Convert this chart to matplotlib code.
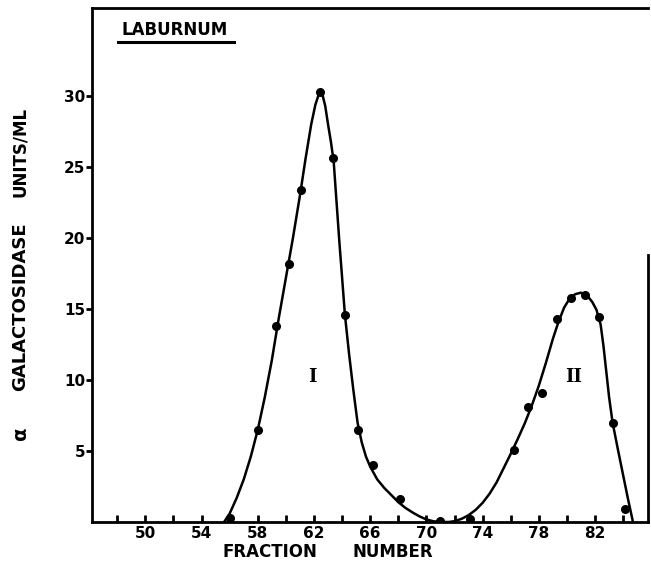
import matplotlib as mpl

mpl.use('Agg')
import matplotlib.pyplot as plt
from matplotlib.lines import Line2D

# measured points (fraction number, alpha galactosidase units/ml)
frac = [56.0, 58.0, 59.3, 60.2, 61.1, 62.4, 63.35, 64.2, 65.1, 66.2, 68.1,
        71.0, 73.1, 76.2, 77.2, 78.2, 79.3, 80.3, 81.3, 82.3, 83.25, 84.15]
activity = [0.3, 6.5, 13.8, 18.2, 23.4, 30.3, 25.65, 14.6, 6.5, 4.0, 1.6,
            0.05, 0.2, 5.1, 8.1, 9.1, 14.3, 15.8, 16.0, 14.45, 7.0, 0.9]

# hand drawn curve
curve_frac = [55.6, 56.0, 56.5, 57.0, 57.5, 58.0, 58.5, 59.0, 59.5, 60.0,
              60.5, 61.0, 61.4, 61.8, 62.1, 62.3, 62.45, 62.6, 62.8, 63.0,
              63.2, 63.4, 63.8, 64.2, 64.5, 64.8, 65.1, 65.4, 65.7, 66.0,
              66.5, 67.0, 67.5, 68.0, 68.5, 69.0, 69.5, 70.0, 70.5, 71.0,
              71.6, 72.0, 72.5, 73.0, 73.5, 74.0, 74.5, 75.0, 75.5, 76.0,
              76.5, 77.0, 77.5, 78.0, 78.5, 79.0, 79.4, 79.8, 80.2, 80.6,
              81.0, 81.4, 81.8, 82.1, 82.4, 82.6, 82.8, 83.0, 83.25, 83.65,
              84.0, 84.35, 84.7]
curve_act = [0.0, 0.6, 1.7, 3.0, 4.6, 6.5, 8.8, 11.4, 14.4, 17.2,
             20.0, 23.0, 25.6, 28.0, 29.4, 30.0, 30.25, 30.1, 29.3, 28.0,
             26.8, 25.4, 19.8, 14.6, 11.8, 9.3, 7.0, 5.6, 4.6, 3.9,
             3.0, 2.4, 1.9, 1.4, 1.0, 0.68, 0.4, 0.18, 0.05, 0.0,
             0.0, 0.06, 0.22, 0.48, 0.85, 1.35, 2.0, 2.8, 3.8, 4.8,
             5.85, 6.95, 8.2, 9.6, 11.2, 12.9, 14.1, 15.1, 15.75, 16.05,
             16.15, 16.0, 15.5, 14.95, 13.9, 12.4, 10.6, 8.8, 7.0, 5.0,
             3.3, 1.6, 0.0]

y_ticks = [5, 10, 15, 20, 25, 30]
x_ticks = list(range(48, 86, 2))
x_labels = [50, 54, 58, 62, 66, 70, 74, 78, 82]
peaks = ['I', 'II']
peak_pos = [(61.87, 10.2), (80.45, 10.2)]

fig = plt.figure(figsize=(6.51, 5.65), dpi=100)
ax = fig.add_axes([0.1413, 0.0761, 0.8541, 0.9097])

ax.plot(curve_frac, curve_act, color='black', linewidth=1.8,
        solid_capstyle='round', solid_joinstyle='round')
ax.plot(frac, activity, 'o', color='black', markersize=5.5)

ax.set_xlim(46.2, 85.77)
ax.set_ylim(0, 36.2)

for s in ['left', 'bottom', 'top', 'right']:
    ax.spines[s].set_linewidth(2)
ax.spines['right'].set_bounds(0, 18.8)

ax.set_yticks(y_ticks)
ax.set_yticklabels([str(v) for v in y_ticks], fontweight='bold', fontsize=11)
ax.tick_params(axis='y', direction='out', length=4, width=2, pad=1)

ax.set_xticks(x_ticks)
ax.set_xticklabels([str(v) if v in x_labels else '' for v in x_ticks],
                   fontweight='bold', fontsize=11)
ax.tick_params(axis='x', direction='in', length=5, width=2, pad=3)

for lab, (px, py) in zip(peaks, peak_pos):
    ax.text(px, py, lab, family='DejaVu Serif', fontweight='bold', fontsize=13,
            ha='center', va='center')

# title with underline
ax.text(0.053, 0.958, 'LABURNUM', transform=ax.transAxes, fontsize=12,
        fontweight='bold', ha='left', va='center')
ax.add_line(Line2D([0.047, 0.256], [0.933, 0.933], transform=ax.transAxes,
                   color='black', linewidth=2.2))

# axis labels, spaced like the original lettering
fig.text(0.415, 0.023, 'FRACTION', fontsize=12, fontweight='bold', ha='center', va='center')
fig.text(0.604, 0.023, 'NUMBER', fontsize=12, fontweight='bold', ha='center', va='center')
fig.text(0.031, 0.234, 'α', fontsize=14, fontweight='bold', rotation=90, ha='center', va='center')
fig.text(0.031, 0.458, 'GALACTOSIDASE', fontsize=13, fontweight='bold', rotation=90,
         ha='center', va='center')
fig.text(0.031, 0.731, 'UNITS/ML', fontsize=12, fontweight='bold', rotation=90,
         ha='center', va='center')

plt.savefig('out.png', dpi=100)
